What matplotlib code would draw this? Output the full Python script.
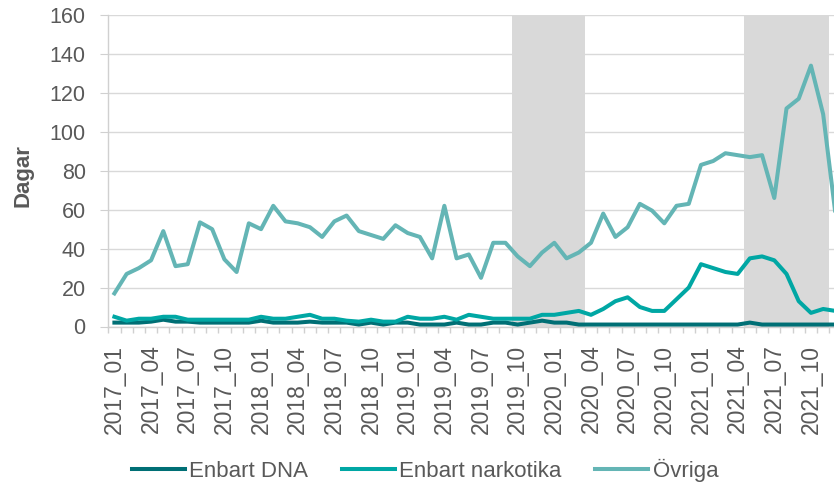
import matplotlib
matplotlib.use("Agg")
import matplotlib.pyplot as plt
import numpy as np

plt.rcParams["font.family"] = ["Liberation Sans", "DejaVu Sans"]

# months 2017_01 .. 2021_12
months = [f"{y}_{m:02d}" for y in range(2017, 2022) for m in range(1, 13)]

enbart_dna = [
    2, 2, 2, 2.5, 3.5, 2.5, 2.5, 2, 2, 2, 2, 2,
    3, 2, 2, 2, 2.5, 2, 2, 2, 1, 2, 1, 2,
    2, 1, 1, 1, 2, 1, 1, 2, 2, 1, 2, 3,
    2, 2, 1, 1, 1, 1, 1, 1, 1, 1, 1, 1,
    1, 1, 1, 1, 2, 1, 1, 1, 1, 1, 1, 1,
]

enbart_narkotika = [
    5, 3, 4, 4, 5, 5, 3.5, 3.5, 3.5, 3.5, 3.5, 3.5,
    5, 4, 4, 5, 6, 4, 4, 3, 2.5, 3.5, 2.5, 2.5,
    5, 4, 4, 5, 3.5, 6, 5, 4, 4, 4, 4, 6,
    6, 7, 8, 6, 9, 13, 15, 10, 8, 8, 14, 20,
    32, 30, 28, 27, 35, 36, 34, 27, 13, 7, 9, 8,
]

ovriga = [
    17, 27, 30, 34, 49, 31, 32, 53.5, 50, 34.5, 28, 53,
    50, 62, 54, 53, 51, 46, 54, 57, 49, 47, 45, 52,
    48, 46, 35, 62, 35, 37, 25, 43, 43, 36, 31, 38,
    43, 35, 38, 43, 58, 46, 51, 63, 59.5, 53, 62, 63,
    83, 85, 89, 88, 87, 88, 66, 112, 117, 134, 109, 58,
]

# shaded periods (first and last month index, inclusive)
shaded = [(33, 38), (52, 58)]

series = [
    ("Enbart DNA", enbart_dna, "#006F75"),
    ("Enbart narkotika", enbart_narkotika, "#00A7A4"),
    ("Övriga", ovriga, "#64B5B5"),
]

text_color = "#595959"
axis_color = "#D0D0D0"


def main():
    fig = plt.figure(figsize=(8.34, 4.9), dpi=100)
    # right edge of the plot runs past the figure, like the cropped original
    ax = fig.add_axes([108.3 / 834, 163.5 / 490, 733.2 / 834, 311.5 / 490])

    x = np.arange(len(months))

    for start, end in shaded:
        ax.axvspan(start - 0.5, end + 0.5, color="#D9D9D9", lw=0, zorder=1)

    handles = []
    for name, values, color in series:
        (line,) = ax.plot(x, values, color=color, lw=2.9, label=name, zorder=3,
                          solid_joinstyle="round")
        handles.append(line)

    ax.set_xlim(-0.5, len(months) - 0.5)
    ax.set_ylim(0, 160)
    ax.set_yticks(np.arange(0, 161, 20))
    ax.yaxis.grid(True, color="#D9D9D9", lw=1)
    ax.set_axisbelow(True)

    ax.set_xticks(x[::3])
    ax.set_xticklabels(months[::3], rotation=90, fontsize=16.5, color=text_color)
    ax.set_xticks(np.arange(-0.5, len(months), 1), minor=True)
    ax.tick_params(axis="x", which="major", length=0, pad=13)
    ax.tick_params(axis="x", which="minor", length=4.5, color=axis_color, width=1)
    ax.tick_params(axis="y", length=5.8, color=axis_color, pad=10.5,
                   labelsize=15.5, labelcolor=text_color)

    for side in ["top", "right"]:
        ax.spines[side].set_visible(False)
    for side in ["left", "bottom"]:
        ax.spines[side].set_color(axis_color)
        ax.spines[side].set_linewidth(1)

    fig.text(23 / 834, 1 - 176 / 490, "Dagar", rotation=90, ha="center",
             va="center", fontsize=16, fontweight="bold", color=text_color)

    leg = fig.legend(handles, [s[0] for s in series], loc="center",
                     bbox_to_anchor=(425 / 834, 1 - 470 / 490), ncol=3,
                     frameon=False, fontsize=16, handlelength=2.4,
                     handletextpad=0.2, columnspacing=1.5)
    for t in leg.get_texts():
        t.set_color(text_color)

    fig.savefig("out.png", dpi=100)


if __name__ == "__main__":
    main()
